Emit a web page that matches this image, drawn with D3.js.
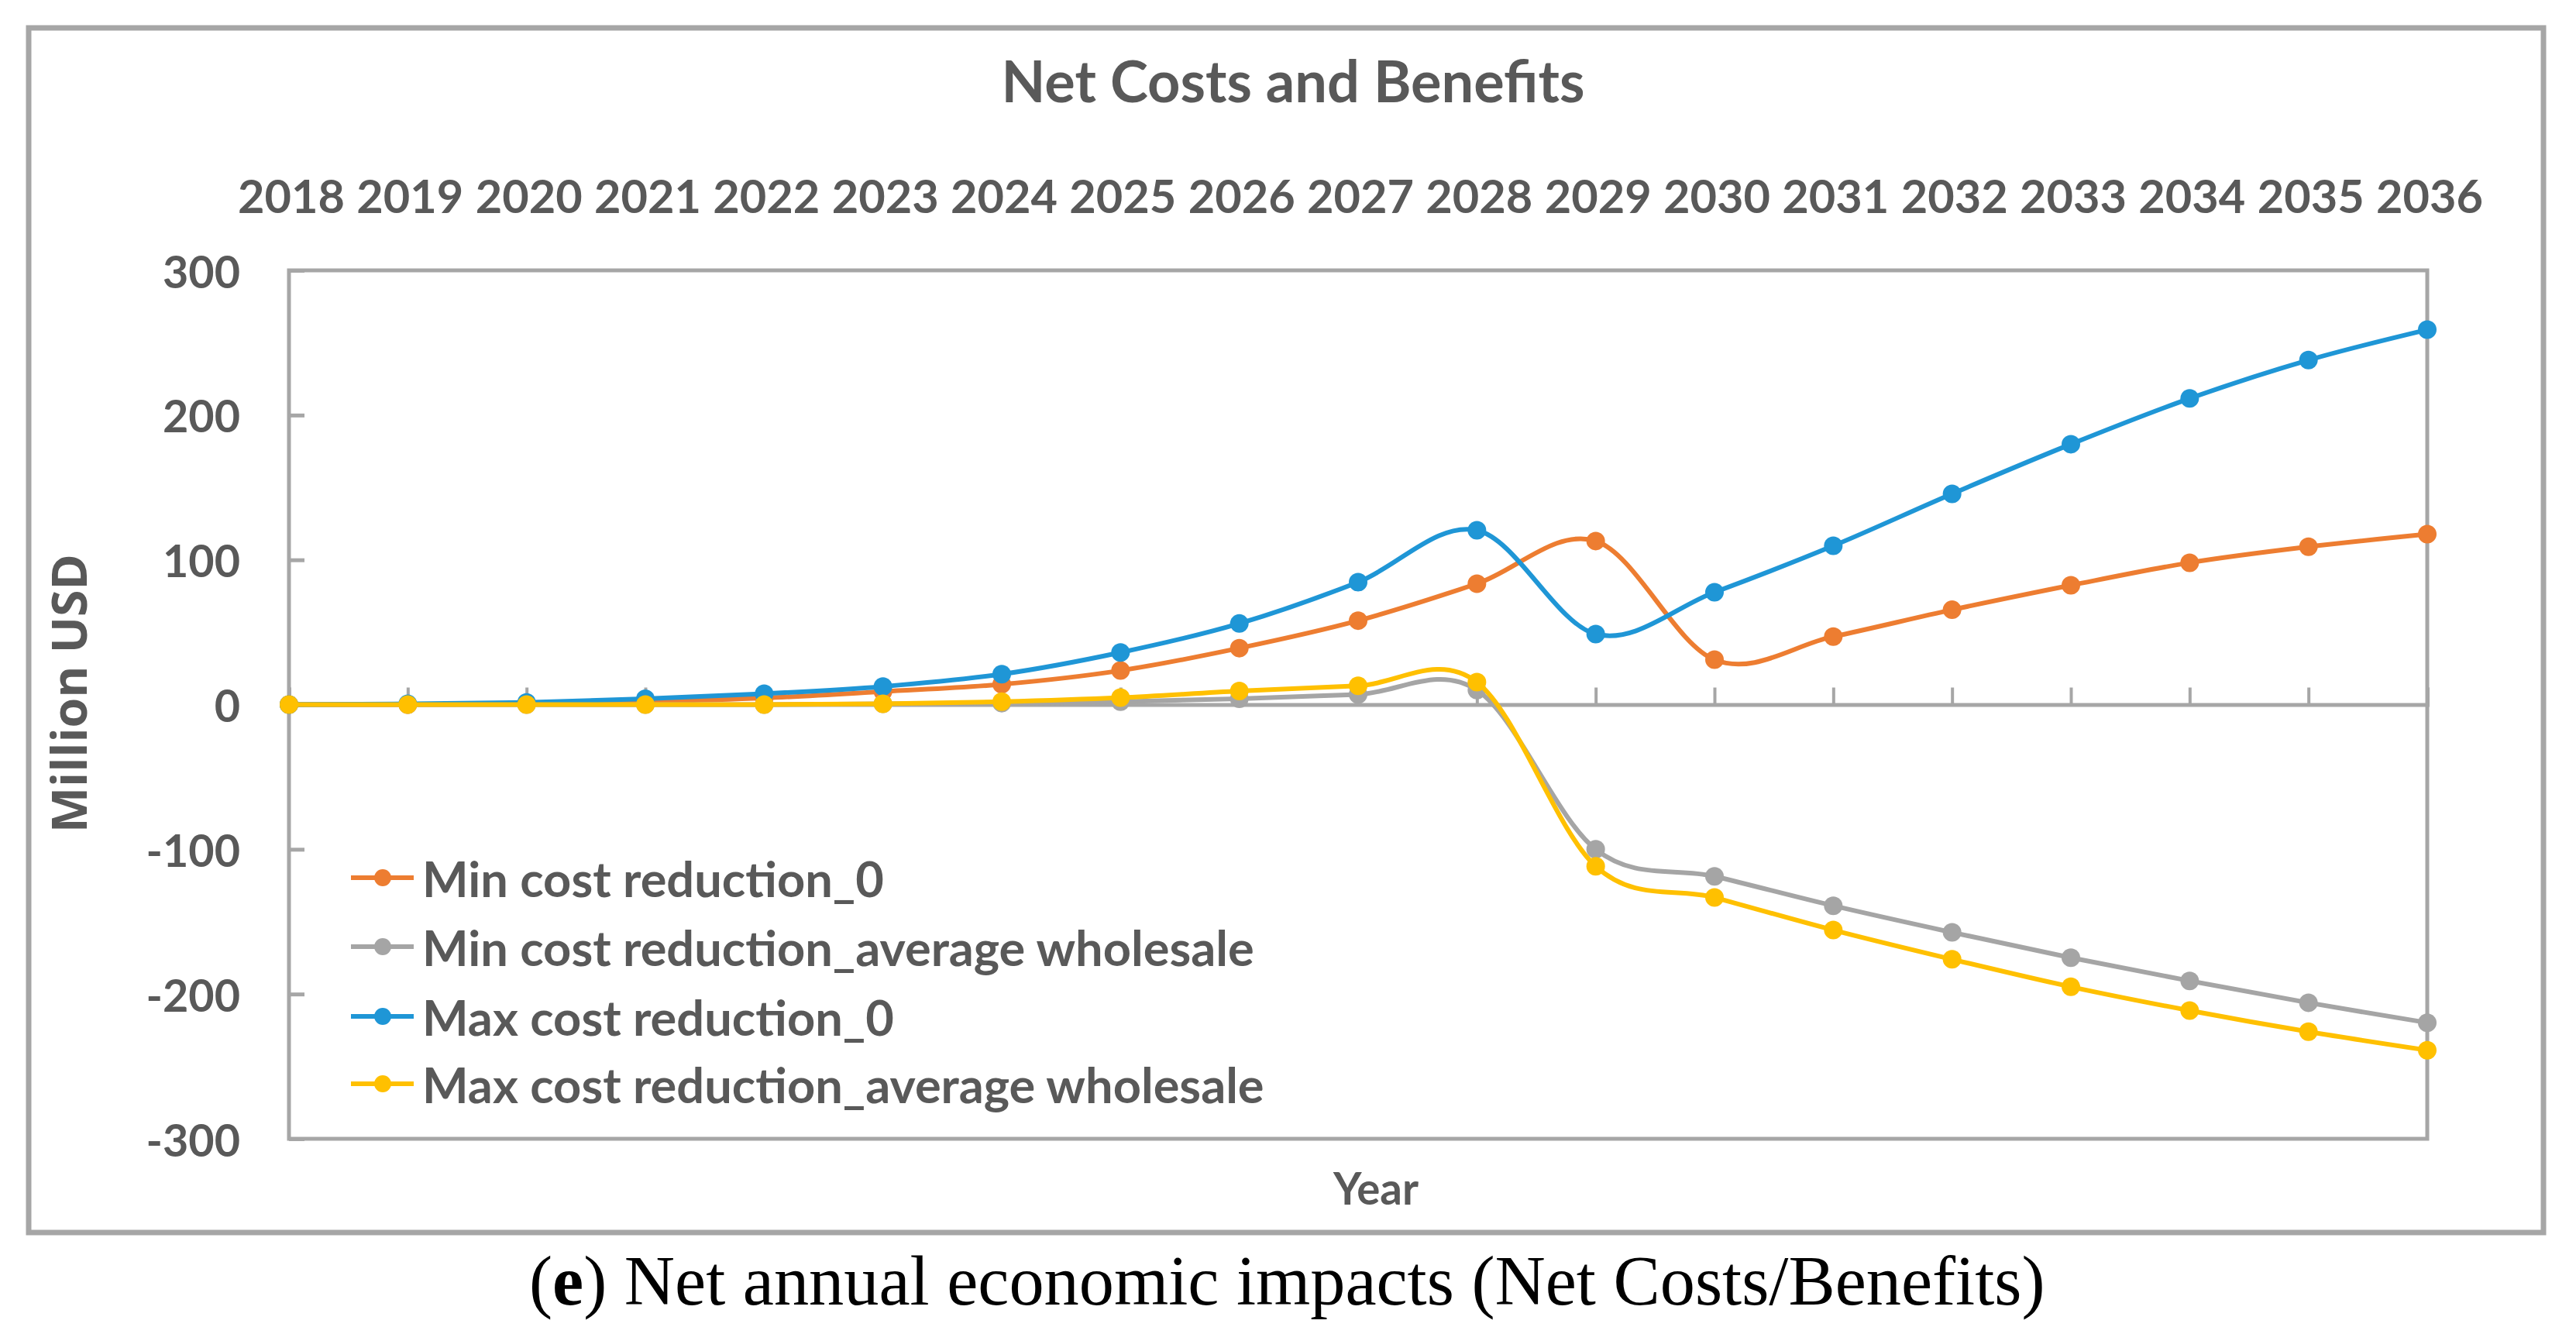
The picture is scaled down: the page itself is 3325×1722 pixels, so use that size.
<!DOCTYPE html>
<html>
<head>
<meta charset="utf-8">
<script src="https://cdn.jsdelivr.net/npm/d3@7"></script>
<style>
  html, body { margin: 0; padding: 0; background: #ffffff; }
  svg { display: block; }
</style>
</head>
<body>
<svg id="chart" width="3325" height="1722"></svg>
<script>
// ---- data ----
const years = ["2018","2019","2020","2021","2022","2023","2024","2025","2026","2027","2028","2029","2030","2031","2032","2033","2034","2035","2036"];
const yTicks = [-300, -200, -100, 0, 100, 200, 300];
const seriesNames = ["Min cost reduction_0", "Min cost reduction_average wholesale", "Max cost reduction_0", "Max cost reduction_average wholesale"];
const minCost0   = [0, 0, 0.5, 2, 4.5, 9, 14, 23.5, 39, 58, 83.5, 113, 31, 47, 65.5, 82.4, 98, 109, 117.7];
const minCostAvg = [0, 0, 0, 0, 0, 0.5, 1, 2, 4, 7, 10, -100, -118.7, -139, -157.4, -174.9, -190.9, -206, -219.8];
const maxCost0   = [0, 0.5, 1.5, 4, 7.5, 12.5, 21, 36, 56, 84.6, 120.4, 48.7, 77.6, 109.7, 145.6, 179.9, 211.5, 238, 259];
const maxCostAvg = [0, 0, 0, 0, 0, 0.5, 2, 4.8, 9.4, 13, 15.5, -111.7, -133.3, -155.8, -176, -195, -211.4, -226, -238.8];
const seriesColors = ["#ED7D31", "#A5A5A5", "#1F96D6", "#FFC000"];
const title = "Net Costs and Benefits";
const yTitle = "Million USD";
const xTitle = "Year";

// ---- layout ----
const svg = d3.select("#chart");
const textColor = "#595959";
const frameColor = "#A6A6A6";
const plot = {left: 373, right: 3133, top: 349, bottom: 1470};
const fontUI = "Lato, 'Open Sans', sans-serif";

function fitWidth(sel, target) {
  const node = sel.node();
  const fs = parseFloat(sel.attr("font-size"));
  const w = node.getComputedTextLength();
  const nfs = fs * target / w;
  sel.attr("font-size", nfs);
  return nfs;
}

// outer border
svg.append("rect")
  .attr("x", 37).attr("y", 36).attr("width", 3246).attr("height", 1555)
  .attr("fill", "#fff").attr("stroke", frameColor).attr("stroke-width", 7);

const x = d3.scalePoint().domain(years).range([plot.left, plot.right]);
const y = d3.scaleLinear().domain([-300, 300]).range([plot.bottom, plot.top]);

// plot frame
svg.append("rect")
  .attr("x", plot.left).attr("y", plot.top)
  .attr("width", plot.right - plot.left).attr("height", plot.bottom - plot.top)
  .attr("fill", "none").attr("stroke", frameColor).attr("stroke-width", 5);

// y axis (ticks pointing inward)
const yAxis = d3.axisRight(y).tickValues(yTicks).tickSize(20).tickFormat("");
const gy = svg.append("g").attr("transform", `translate(${plot.left},0)`).call(yAxis);
gy.select(".domain").remove();
gy.selectAll(".tick line").attr("stroke", frameColor).attr("stroke-width", 5);

// y labels
const gyl = svg.append("g");
gyl.selectAll("text").data(yTicks).join("text")
  .attr("x", 310).attr("y", d => y(d))
  .attr("text-anchor", "end").attr("dominant-baseline", "central")
  .attr("font-family", fontUI).attr("font-weight", 700).attr("font-size", 62)
  .attr("fill", textColor).text(d => d);
{
  const t = gyl.selectAll("text").filter(d => d === 300);
  const fs = fitWidth(t, 100);
  gyl.selectAll("text").attr("font-size", fs);
}

// x axis at zero with upward ticks
const xAxis = d3.axisTop(x).tickSize(22).tickFormat("");
const gx = svg.append("g").attr("transform", `translate(0,${y(0)})`).call(xAxis);
gx.select(".domain").attr("stroke", frameColor).attr("stroke-width", 5);
gx.selectAll(".tick line").attr("stroke", frameColor).attr("stroke-width", 4);

// top year labels
const gxl = svg.append("g");
gxl.selectAll("text").data(years).join("text")
  .attr("x", d => x(d) + 3).attr("y", 275)
  .attr("text-anchor", "middle")
  .attr("font-family", fontUI).attr("font-weight", 700).attr("font-size", 62)
  .attr("fill", textColor).text(d => d);
{
  const t = gxl.select("text");
  const fs = fitWidth(t, 138);
  gxl.selectAll("text").attr("font-size", fs);
}

// title
const tt = svg.append("text")
  .attr("x", 1669).attr("y", 132).attr("text-anchor", "middle")
  .attr("font-family", fontUI).attr("font-weight", 700).attr("font-size", 70)
  .attr("fill", textColor).text(title);
fitWidth(tt, 753);

// y title
const yt = svg.append("text")
  .attr("transform", "translate(112,895) rotate(-90)")
  .attr("text-anchor", "middle")
  .attr("font-family", "'Open Sans', 'DejaVu Sans', sans-serif").attr("font-weight", 700).attr("font-size", 60)
  .attr("fill", textColor).text(yTitle);
fitWidth(yt, 360);

// x title
const xt = svg.append("text")
  .attr("x", 1776).attr("y", 1555).attr("text-anchor", "middle")
  .attr("font-family", fontUI).attr("font-weight", 700).attr("font-size", 60)
  .attr("fill", textColor).text(xTitle);
fitWidth(xt, 110);

// series
const allSeries = [minCost0, minCostAvg, maxCost0, maxCostAvg];
const line = d3.line()
  .x((d, i) => x(years[i]))
  .y(d => y(d))
  .curve(d3.curveCardinal.tension(0));

allSeries.forEach((vals, si) => {
  const g = svg.append("g");
  g.append("path").datum(vals).attr("d", line)
    .attr("fill", "none").attr("stroke", seriesColors[si]).attr("stroke-width", 6);
  g.selectAll("circle").data(vals).join("circle")
    .attr("cx", (d, i) => x(years[i])).attr("cy", d => y(d)).attr("r", 12)
    .attr("fill", seriesColors[si]);
});

// legend
const legendRows = [1133, 1222, 1312, 1399];
const lg = svg.append("g");
let legendFs = null;
seriesNames.forEach((name, i) => {
  const row = lg.append("g");
  row.append("line").attr("x1", 453).attr("x2", 534)
    .attr("y1", legendRows[i]).attr("y2", legendRows[i])
    .attr("stroke", seriesColors[i]).attr("stroke-width", 6);
  row.append("circle").attr("cx", 494).attr("cy", legendRows[i]).attr("r", 11)
    .attr("fill", seriesColors[i]);
  row.append("text").attr("class", "lt")
    .attr("x", 545).attr("y", legendRows[i]).attr("dominant-baseline", "central")
    .attr("font-family", fontUI).attr("font-weight", 700).attr("font-size", 58)
    .attr("fill", textColor).text(name);
});
{
  const t = lg.selectAll("text.lt").filter((d, i) => i === 1);
  const fs = fitWidth(t, 1074);
  lg.selectAll("text.lt").attr("font-size", fs);
}

// caption
const cap = svg.append("text")
  .attr("x", 683).attr("y", 1684)
  .attr("font-family", "'Liberation Serif', 'DejaVu Serif', serif").attr("font-size", 86)
  .attr("fill", "#000");
cap.append("tspan").text("(");
cap.append("tspan").attr("font-weight", 700).text("e");
cap.append("tspan").text(") Net annual economic impacts (Net Costs/Benefits)");
{
  const w = cap.node().getComputedTextLength();
  cap.attr("font-size", 86 * 1957 / w);
}
</script>
</body>
</html>
